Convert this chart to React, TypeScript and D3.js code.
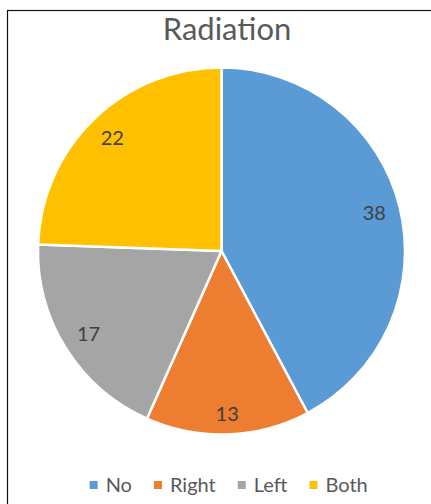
import React, { useEffect, useRef } from "react";
import * as d3 from "d3";

const title = "Radiation";
const categories = ["No", "Right", "Left", "Both"];
const values = [38, 13, 17, 22];
const colors = ["#5B9BD5", "#ED7D31", "#A5A5A5", "#FFC000"];

const W = 431;
const H = 504;
const FONT = "Lato, 'Open Sans', sans-serif";

export default function App() {
  const ref = useRef<SVGSVGElement>(null);

  useEffect(() => {
    const svg = d3.select(ref.current!);
    svg.selectAll("*").remove();

    svg.append("rect").attr("x", 0).attr("y", 0).attr("width", W).attr("height", H).attr("fill", "#fff");
    svg
      .append("rect")
      .attr("x", 7.5)
      .attr("y", 10.5)
      .attr("width", W + 20)
      .attr("height", H + 20)
      .attr("fill", "#fff")
      .attr("stroke", "#111")
      .attr("stroke-width", 1.2);

    const chartCx = 227;

    svg
      .append("text")
      .attr("x", chartCx)
      .attr("y", 39.5)
      .attr("text-anchor", "middle")
      .attr("font-family", FONT)
      .attr("font-size", 31)
      .attr("fill", "#595959")
      .text(title);

    const cx = 221.5,
      cy = 251,
      R = 183.5;
    const pie = d3.pie<number>().sort(null).value((d) => d);
    const arcs = pie(values);
    const arc = d3.arc<d3.PieArcDatum<number>>().innerRadius(0).outerRadius(R);
    const g = svg.append("g").attr("transform", `translate(${cx},${cy})`);
    g.selectAll("path")
      .data(arcs)
      .join("path")
      .attr("d", arc as any)
      .attr("fill", (_d, i) => colors[i])
      .attr("stroke", "#fff")
      .attr("stroke-width", 2.5)
      .attr("stroke-linejoin", "round");

    const fs = 20;
    const capH = 0.72 * fs;
    const pad = 13;
    arcs.forEach((a, i) => {
      const t = g
        .append("text")
        .attr("text-anchor", "middle")
        .attr("font-family", FONT)
        .attr("font-size", fs)
        .attr("fill", "#404040")
        .text(String(values[i]));
      const w = (t.node() as SVGTextElement).getComputedTextLength();
      const mid = (a.startAngle + a.endAngle) / 2;
      const s = Math.sin(mid),
        c = Math.cos(mid);
      const r = R - pad - (Math.abs(s) * w) / 2 - (Math.abs(c) * capH) / 2;
      const x = r * s;
      const y = -r * c;
      t.attr("x", x).attr("y", y + capH / 2);
    });

    // legend
    const lg = svg.append("g");
    const lfs = 20;
    const marker = 8;
    const gapMT = 8;
    const gapItems = 22;
    let xPos = 0;
    const items: { g: any; w: number }[] = [];
    categories.forEach((cat, i) => {
      const ig = lg.append("g");
      ig.append("rect")
        .attr("x", 0)
        .attr("y", -marker / 2)
        .attr("width", marker)
        .attr("height", marker)
        .attr("fill", colors[i]);
      const t = ig
        .append("text")
        .attr("x", marker + gapMT)
        .attr("y", 0.36 * lfs)
        .attr("font-family", FONT)
        .attr("font-size", lfs)
        .attr("fill", "#595959")
        .text(cat);
      const tw = (t.node() as SVGTextElement).getComputedTextLength();
      items.push({ g: ig, w: marker + gapMT + tw });
    });
    const total = items.reduce((s, it) => s + it.w, 0) + gapItems * (items.length - 1);
    xPos = 228.7 - total / 2;
    items.forEach((it) => {
      it.g.attr("transform", `translate(${xPos},485)`);
      xPos += it.w + gapItems;
    });
  }, []);

  return (
    <svg
      ref={ref}
      width={W}
      height={H}
      style={{ position: "absolute", left: 0, top: 0, display: "block" }}
    />
  );
}
